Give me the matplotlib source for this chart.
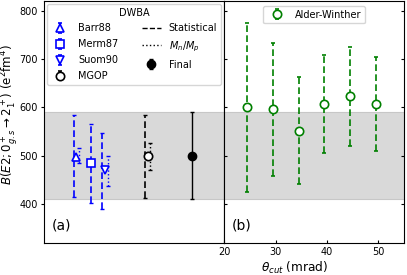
import numpy as np
import matplotlib
matplotlib.use("Agg")
import matplotlib.pyplot as plt
from matplotlib.lines import Line2D

plt.rcParams['font.size'] = 7

# DWBA analyses (panel a)
dwba_labels = ["Barr88", "Merm87", "Suom90", "MGOP"]
dwba_x = [1.8, 2.6, 3.4, 5.75]
dwba_val = [497, 485, 470, 499]
dwba_colors = ["blue", "blue", "blue", "black"]
dwba_markers = ["^", "s", "v", "o"]
stat_lo = [415, 403, 390, 414]
stat_hi = [584, 566, 547, 584]
mnmp_lo = [485, 485, 438, 471]
mnmp_hi = [516, 485, 500, 527]
final_x, final_val, final_err = 8.2, 500, 90

# Alder-Winther vs cut angle (panel b)
theta_cut = [24.5, 29.5, 34.5, 39.5, 44.5, 49.5]
aw_val = [600, 596, 552, 607, 623, 607]
aw_err = [175, 137, 110, 102, 102, 97]

band = (410, 590)
off = 0.15

fig, (ax1, ax2) = plt.subplots(1, 2, figsize=(4.07, 2.75), dpi=100, sharey=True)
fig.subplots_adjust(left=0.108, right=0.993, bottom=0.116, top=0.997, wspace=0)

for ax in (ax1, ax2):
    ax.axhspan(*band, facecolor="0.85", edgecolor="0.78", lw=0.8, zorder=0)

handles = []
for i, lab in enumerate(dwba_labels):
    c, m, x, v = dwba_colors[i], dwba_markers[i], dwba_x[i], dwba_val[i]
    dx = 0 if lab == "Merm87" else off
    eb = ax1.errorbar([x - dx], [v], yerr=[[v - stat_lo[i]], [stat_hi[i] - v]],
                      fmt="none", ecolor=c, capsize=1.5, elinewidth=1.2)
    eb[2][0].set_linestyle((0, (4, 2)))
    if mnmp_hi[i] > mnmp_lo[i]:
        eb = ax1.errorbar([x + off], [v], yerr=[[v - mnmp_lo[i]], [mnmp_hi[i] - v]],
                          fmt="none", ecolor=c, capsize=1.5, elinewidth=1.0)
        eb[2][0].set_linestyle(":")
    ax1.plot([x], [v], m, color=c, mfc="white", mec=c, ms=6, mew=1.2, zorder=4)
    h = ax1.errorbar([np.nan], [np.nan], yerr=[1], fmt=m, color=c, mfc="white",
                     mec=c, ms=6, mew=1.2, capsize=1.5, label=lab)
    handles.append(h)

ax1.errorbar([final_x], [final_val], yerr=[final_err], fmt="o", color="black",
             ms=6, capsize=1.5, elinewidth=1.0)
handles.append(Line2D([], [], color="black", ls="--", lw=1.0, label="Statistical"))
handles.append(Line2D([], [], color="black", ls=":", lw=1.0, label=r"$M_n/M_p$"))
hf = ax1.errorbar([np.nan], [np.nan], yerr=[1], fmt="o", color="black", ms=6,
                  capsize=1.5, label="Final")
handles.append(hf)

ax1.legend(handles=handles, ncol=2, title="DWBA", loc="upper left",
           fontsize=7, title_fontsize=7, columnspacing=2.4, handlelength=2.0,
           labelspacing=0.6, borderaxespad=0.3)
ax1.set_xlim(0, 10)
ax1.set_ylim(320, 820)
ax1.set_xticks([])
ax1.set_yticks([400, 500, 600, 700, 800])
ax1.tick_params(axis="y", length=2.5, pad=2)
ax1.set_ylabel(r"$B(E2;0^+_{g.s}\rightarrow 2^+_1)$ (e$^2$fm$^4$)", fontsize=8.5)
ax1.yaxis.set_label_coords(-0.135, 0.53)
ax1.text(0.045, 0.055, "(a)", transform=ax1.transAxes, fontsize=10)

eb = ax2.errorbar(theta_cut, aw_val, yerr=aw_err, fmt="o", color="green",
                  mfc="white", mec="green", ms=6, mew=1.2, capsize=1.5,
                  elinewidth=1.2, label="Alder-Winther")
eb[2][0].set_linestyle((0, (4, 2)))
ax2.legend(loc="upper center", fontsize=7, borderaxespad=0.5)
ax2.set_xlim(20, 55)
ax2.set_xticks([20, 30, 40, 50])
ax2.tick_params(axis="y", direction="in", length=2.5, left=True, right=True,
                labelleft=False)
ax2.tick_params(axis="x", direction="in", length=2.5, pad=3)
ax2.set_xlabel(r"$\theta_{cut}$ (mrad)", fontsize=8.7)
ax2.xaxis.set_label_coords(0.39, -0.068)
ax2.text(0.045, 0.055, "(b)", transform=ax2.transAxes, fontsize=10)

fig.savefig("out.png", dpi=100)
